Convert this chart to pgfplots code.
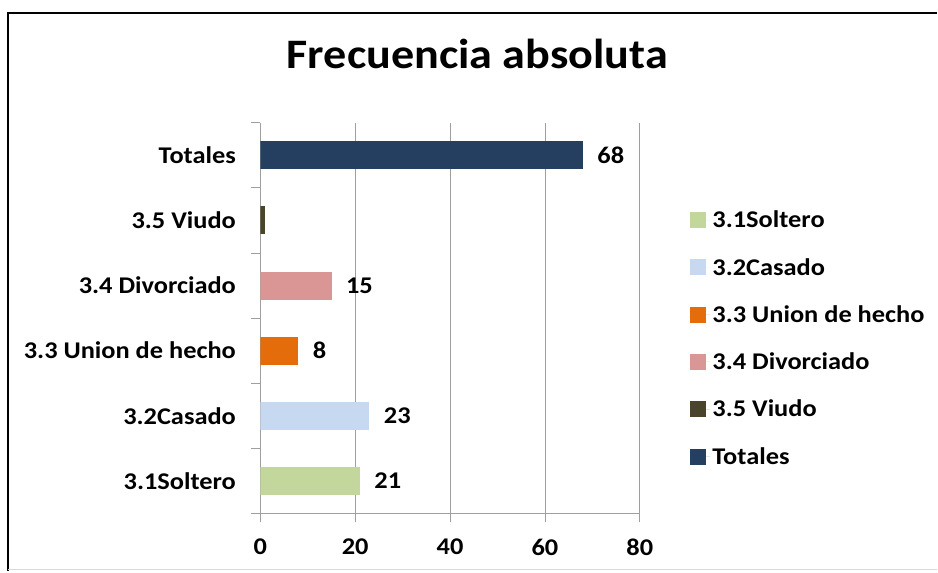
\documentclass[border=0pt]{standalone}
\usepackage{pgfplots}
\pgfplotsset{compat=1.18}
\usepackage{fontspec}
\setmainfont{Carlito}[FakeStretch=1.1]
\definecolor{csol}{HTML}{C3D69B}
\definecolor{ccas}{HTML}{C6D9F1}
\definecolor{cuni}{HTML}{E46C0A}
\definecolor{cdiv}{HTML}{D99694}
\definecolor{cviu}{HTML}{4A452A}
\definecolor{ctot}{HTML}{243F60}
\newcommand{\lbl}{\fontsize{24}{28}\selectfont\bfseries}
\begin{document}
\begin{tikzpicture}[x=1pt,y=1pt]
\path (0,0) rectangle (938,572);
\draw[black, line width=2.5pt] (8,0) -- (8,559) -- (938,559);
\draw[gray!30, line width=1.5pt] (8,1.5) -- (938,1.5);
\node[font=\fontsize{42}{48}\selectfont\bfseries, anchor=base] at (478,503) {Frecuencia absoluta};
\begin{axis}[
  at={(260.7pt,58pt)}, anchor=south west,
  scale only axis, width=380pt, height=391pt,
  xbar, bar width=28pt, bar shift=0pt,
  xmin=0, xmax=80, ymin=-0.5, ymax=5.5,
  enlargelimits=false,
  xtick={0,20,...,80},
  ytick={0,...,5},
  yticklabels={3.1Soltero, 3.2Casado, 3.3 Union de hecho, 3.4 Divorciado, 3.5 Viudo, Totales},
  minor ytick={-0.5,0.5,...,5.5},
  axis x line*=bottom, axis y line*=left,
  axis line style={draw=gray!75, line width=0.9pt, -},
  xmajorgrids, grid style={gray!75, line width=0.9pt},
  tick align=outside,
  major tick length=9pt, minor tick length=9pt,
  tick style={gray!75, line width=0.9pt},
  major y tick style={draw=none},
  /pgf/number format/assume math mode=true,
  xticklabel style={font=\lbl, yshift=-13pt},
  yticklabel style={font=\lbl, xshift=-12pt},
  nodes near coords style={font=\lbl, black, anchor=west, xshift=11pt},
  legend style={at={(rel axis cs:1.125,0.785)}, anchor=north west, draw=none,
    font=\lbl, row sep=25pt, fill=none},
  legend cell align=left,
  legend image code/.code={\fill[#1, draw=none] (0pt,-8pt) rectangle (16pt,8pt);
    \path (0pt,0pt) -- (20pt,0pt);},
]
\addplot[fill=csol, draw=none, nodes near coords] coordinates {(21,0)};
\addplot[fill=ccas, draw=none, nodes near coords] coordinates {(23,1)};
\addplot[fill=cuni, draw=none, nodes near coords] coordinates {(8,2)};
\addplot[fill=cdiv, draw=none, nodes near coords] coordinates {(15,3)};
\addplot[fill=cviu, draw=none] coordinates {(1,4)};
\addplot[fill=ctot, draw=none, nodes near coords] coordinates {(68,5)};
\legend{3.1Soltero, 3.2Casado, 3.3 Union de hecho, 3.4 Divorciado, 3.5 Viudo, Totales}
\end{axis}
\end{tikzpicture}
\end{document}
